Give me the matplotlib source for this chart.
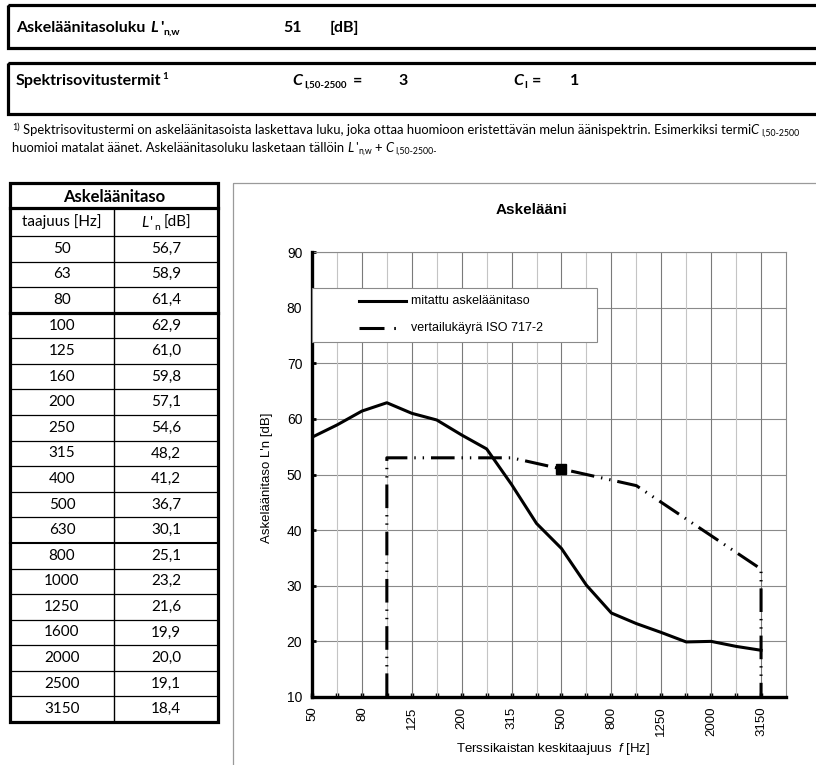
import matplotlib
matplotlib.use("Agg")
import matplotlib.pyplot as plt
from matplotlib.patches import Rectangle
from matplotlib.lines import Line2D
import numpy as np

# ---------------- data ----------------
freqs = [50, 63, 80, 100, 125, 160, 200, 250, 315, 400, 500, 630, 800,
         1000, 1250, 1600, 2000, 2500, 3150]
measured = [56.7, 58.9, 61.4, 62.9, 61.0, 59.8, 57.1, 54.6, 48.2, 41.2,
            36.7, 30.1, 25.1, 23.2, 21.6, 19.9, 20.0, 19.1, 18.4]
ref_freqs = [100, 125, 160, 200, 250, 315, 400, 500, 630, 800, 1000,
             1250, 1600, 2000, 2500, 3150]
ref_curve = [53, 53, 53, 53, 53, 53, 52, 51, 50, 49, 48, 45, 42, 39, 36, 33]
rating_freq = 500
rating_value = 51
c_i_50_2500 = 3
c_i = 1
y_ticks = [10, 20, 30, 40, 50, 60, 70, 80, 90]
labelled_freqs = [50, 80, 125, 200, 315, 500, 800, 1250, 2000, 3150]

legend_labels = ["mitattu askeläänitaso", "vertailukäyrä ISO 717-2"]
chart_title = "Askelääni"
y_label = "Askeläänitaso L'n [dB]"
x_label = r"Terssikaistan keskitaajuus  $\mathit{f}$ [Hz]"

# ---------------- page setup ----------------
W, H = 816, 765
plt.rcParams['mathtext.fontset'] = 'custom'
plt.rcParams['mathtext.rm'] = 'Liberation Sans'
plt.rcParams['mathtext.it'] = 'Liberation Sans:italic'
plt.rcParams['lines.scale_dashes'] = False

DOC = 'Lato'
CHART = 'Liberation Sans'

fig = plt.figure(figsize=(W / 100, H / 100), dpi=100)
bg = fig.add_axes([0, 0, 1, 1])
bg.set_xlim(0, W)
bg.set_ylim(H, 0)
bg.axis('off')
bg.set_zorder(0)
renderer = fig.canvas.get_renderer()


def text_run(x, y, pieces, size=10, family=DOC, zorder=3):
    """Write a sequence of styled text pieces one after another."""
    for s, opts in pieces:
        fs = opts.get('size', size)
        x += opts.get('dx', 0)
        t = bg.text(x, y + opts.get('dy', 0), s, fontsize=fs, family=family,
                    fontweight=opts.get('weight', 'normal'),
                    fontstyle=opts.get('style', 'normal'),
                    ha='left', va='baseline', zorder=zorder)
        bb = t.get_window_extent(renderer)
        x += bb.width + opts.get('gap', 0)
    return x


def run_width(pieces, size=10, family=DOC):
    tmp = fig.add_axes([0, 0, 0.01, 0.01])
    tmp.axis('off')
    w = 0
    for s, opts in pieces:
        t = tmp.text(0, 0, s, fontsize=opts.get('size', size), family=family,
                     fontweight=opts.get('weight', 'normal'),
                     fontstyle=opts.get('style', 'normal'))
        w += opts.get('dx', 0) + t.get_window_extent(renderer).width + opts.get('gap', 0)
    tmp.remove()
    return w


B = {'weight': 'bold'}
BI = {'weight': 'bold', 'style': 'italic'}
I = {'style': 'italic'}
HS = 11.5  # header box font size

# ---------------- header boxes ----------------
bg.add_patch(Rectangle((8, 5), 900, 43, fill=False, lw=2.3, ec='black'))
text_run(16, 32, [("Askeläänitasoluku", dict(B, gap=5)), ("L", dict(BI, gap=2)),
                  ("'", dict(B, gap=0)), ("n,w", dict(B, size=7.5, dy=3))], size=HS)
bg.text(283, 32, str(rating_value), fontsize=HS, family=DOC, fontweight='bold', va='baseline')
bg.text(330, 32, "[dB]", fontsize=HS, family=DOC, fontweight='bold', va='baseline')

bg.add_patch(Rectangle((8, 63), 900, 51, fill=False, lw=2.3, ec='black'))
text_run(16, 85, [("Spektrisovitustermit", dict(B, gap=1)), ("1", dict(B, size=7, dy=-6))], size=HS)
text_run(292, 85, [("C", dict(BI, gap=2)), ("I,50-2500", dict(B, size=7, dy=3, gap=6)),
                   ("=", B)], size=HS)
bg.text(398, 85, str(c_i_50_2500), fontsize=HS, family=DOC, fontweight='bold', va='baseline')
text_run(513, 85, [("C", dict(BI, gap=1)), ("I", dict(B, size=7, dy=3, gap=5)),
                   ("=", B)], size=HS)
bg.text(570, 85, str(c_i), fontsize=HS, family=DOC, fontweight='bold', va='baseline')

# ---------------- footnote ----------------
FS = 9.4
text_run(12, 134, [("1)", dict(size=6.5, dy=-4, gap=3)),
                   ("Spektrisovitustermi on askeläänitasoista laskettava luku, joka ottaa huomioon "
                    "eristettävän melun äänispektrin. Esimerkiksi termi", dict(gap=0)),
                   ("C", dict(I, gap=2)), ("I,50-2500", dict(size=6.3, dy=2))], size=FS)
text_run(12, 152, [("huomioi matalat äänet. Askeläänitasoluku lasketaan tällöin", dict(gap=3)),
                   ("L", dict(I, gap=2)), ("'", dict(gap=0)),
                   ("n,w", dict(size=6.3, dy=2, gap=3)), ("+", dict(gap=3)),
                   ("C", dict(I, gap=2)), ("I,50-2500-", dict(size=6.3, dy=2))], size=FS)

# ---------------- table ----------------
TS = 11
t_left, t_right, t_mid = 10, 218, 114
t_top, h1, h2 = 183, 208, 236
row_h = (722 - h2) / len(freqs)
t_bottom = h2 + row_h * len(freqs)

bg.add_patch(Rectangle((t_left, t_top), t_right - t_left, t_bottom - t_top,
                       fill=False, lw=2.3, ec='black', zorder=4))
bg.add_line(Line2D([t_left, t_right], [h1, h1], lw=2.3, color='black', zorder=4))
bg.add_line(Line2D([t_left, t_right], [h2, h2], lw=0.9, color='black', zorder=4))
bg.add_line(Line2D([t_mid, t_mid], [h1, t_bottom], lw=1.0, color='black', zorder=4))
for k in range(1, len(freqs)):
    yy = h2 + k * row_h
    lw = 2.3 if freqs[k] == 100 else (1.5 if freqs[k] == 800 else 0.9)
    bg.add_line(Line2D([t_left, t_right], [yy, yy], lw=lw, color='black', zorder=4))

bg.text((t_left + t_right) / 2, (t_top + h1) / 2 + 1, "Askeläänitaso", fontsize=12,
        family=DOC, fontweight='bold', ha='center', va='center')
bg.text((t_left + t_mid) / 2, (h1 + h2) / 2, "taajuus [Hz]", fontsize=TS,
        family=DOC, ha='center', va='center')
hdr = [("L", dict(I, gap=2)), ("'", dict(gap=1)), ("n", dict(size=7.5, dy=3, gap=3)), ("[dB]", {})]
hw = run_width(hdr, size=TS)
text_run((t_mid + t_right) / 2 - hw / 2, (h1 + h2) / 2 + 5, hdr, size=TS)

for k, (f, v) in enumerate(zip(freqs, measured)):
    yc = h2 + (k + 0.5) * row_h
    bg.text((t_left + t_mid) / 2, yc, str(f), fontsize=TS, family=DOC,
            ha='center', va='center')
    bg.text((t_mid + t_right) / 2, yc, f"{v:.1f}".replace('.', ','), fontsize=TS,
            family=DOC, ha='center', va='center')

# ---------------- chart frame and texts ----------------
bg.add_patch(Rectangle((233, 183), 800, 800, fill=False, lw=0.9, ec='#9a9a9a'))
bg.text(531, 210, chart_title, fontsize=11, family=CHART, fontweight='bold',
        ha='center', va='center')
bg.text(267, 478, y_label, fontsize=9.5, family=CHART, rotation=90,
        ha='center', va='center')
bg.text(553, 749, x_label, fontsize=9.5, family=CHART, ha='center', va='center')

# ---------------- chart axes ----------------
ax_l, ax_r, ax_t, ax_b = 312, 786, 252, 697
ax = fig.add_axes([ax_l / W, (H - ax_b) / H, (ax_r - ax_l) / W, (ax_b - ax_t) / H])
ax.set_zorder(1)

xi = np.arange(len(freqs))
ax.set_xlim(0, len(freqs))
ax.set_ylim(y_ticks[0], y_ticks[-1])

for k in xi[1:]:
    major = freqs[k] in labelled_freqs
    ax.axvline(k, color='#7a7a7a' if major else '#c4c4c4', lw=0.8, zorder=1)
ax.set_yticks(y_ticks)
ax.yaxis.grid(True, color='#8a8a8a', lw=0.8, zorder=1)
ax.set_axisbelow(True)

ax.set_xticks(xi)
ax.set_xticklabels([str(f) if f in labelled_freqs else '' for f in freqs],
                   rotation=90, fontsize=9.5, family=CHART)
ax.set_yticklabels([str(v) for v in y_ticks], fontsize=10, family=CHART)
ax.tick_params(axis='x', direction='in', length=3, width=2.5, pad=7, color='black')
ax.tick_params(axis='y', direction='in', length=3, width=2.0, pad=7, color='black')

for side in ('left', 'bottom'):
    ax.spines[side].set_linewidth(2.4)
    ax.spines[side].set_color('black')
    ax.spines[side].set_zorder(6)
for side in ('top', 'right'):
    ax.spines[side].set_linewidth(0.8)
    ax.spines[side].set_color('#8a8a8a')

# measured impact sound level
ax.plot(xi, measured, color='black', lw=2.2, zorder=4, solid_joinstyle='round')

# shifted ISO 717-2 reference curve, closed down to the axis at both ends
ref_idx = [freqs.index(f) for f in ref_freqs]
y_floor = y_ticks[0]
ref_x = [ref_idx[0]] + ref_idx + [ref_idx[-1]]
ref_y = [y_floor] + ref_curve + [y_floor]
iso_dash = (17, 5, 1, 5, 1, 5)
ax.plot(ref_x, ref_y, color='black', lw=2.2, dashes=iso_dash, zorder=4, clip_on=False)
ax.plot([freqs.index(rating_freq)], [rating_value], marker='s', ms=7, color='black', zorder=5)

# legend box
lg_x0, lg_y0, lg_x1, lg_y1 = 312, 288, 597, 342
leg_ax = fig.add_axes([0, 0, 1, 1])
leg_ax.set_xlim(0, W)
leg_ax.set_ylim(H, 0)
leg_ax.axis('off')
leg_ax.set_zorder(3)
leg_ax.add_patch(Rectangle((lg_x0, lg_y0), lg_x1 - lg_x0, lg_y1 - lg_y0,
                           fc='white', ec='#8a8a8a', lw=0.8))
leg_ax.add_line(Line2D([359, 406], [301, 301], color='black', lw=2.2))
leg_ax.add_line(Line2D([359, 402], [328, 328], color='black', lw=2.2,
                       dashes=(18, 7, 1.2, 30)))
leg_ax.text(411, 301, legend_labels[0], fontsize=9, family=CHART, va='center')
leg_ax.text(411, 328, legend_labels[1], fontsize=9, family=CHART, va='center')

fig.savefig('out.png', dpi=100)
